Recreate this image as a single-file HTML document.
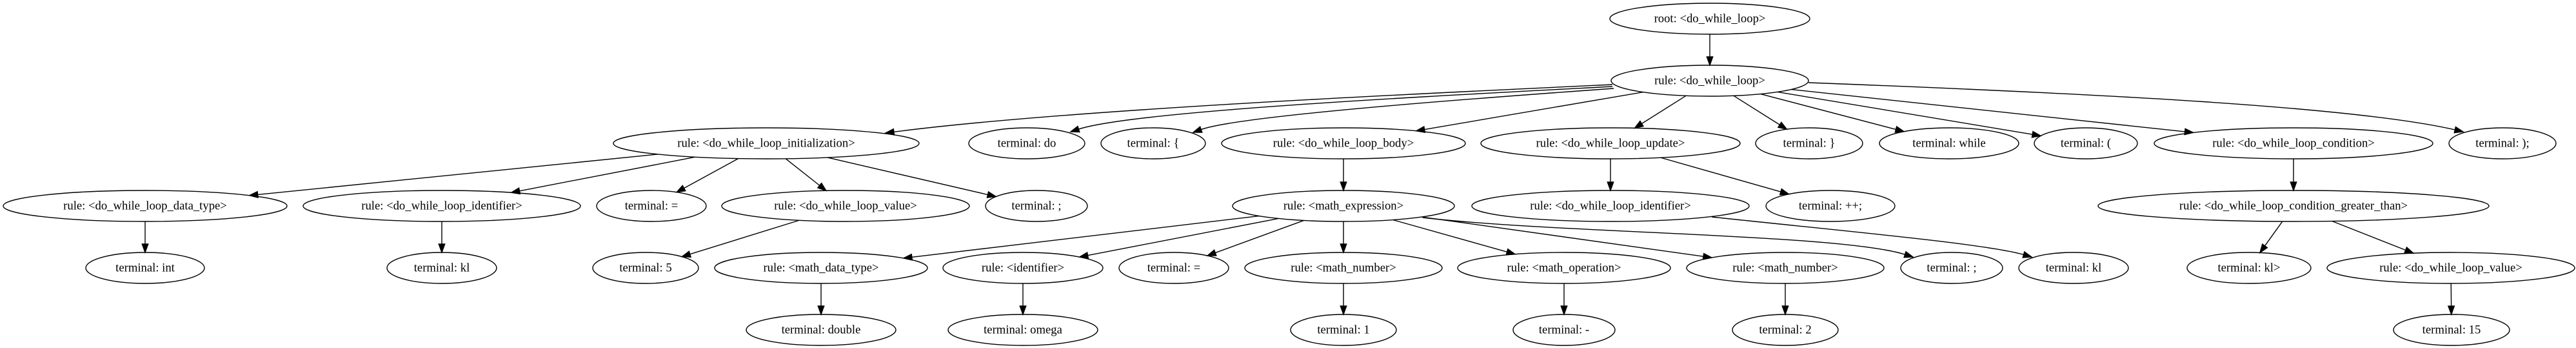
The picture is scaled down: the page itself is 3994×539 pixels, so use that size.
<!DOCTYPE html>
<html><head><meta charset="utf-8"><style>
html,body{margin:0;padding:0;background:#fff;}
svg{display:block;}
text{font-family:"Liberation Serif",serif;font-size:18.67px;fill:#000;text-anchor:middle;dominant-baseline:central;}
ellipse{fill:none;stroke:#000;stroke-width:1.4;}
</style></head><body>
<svg id="g" width="3994" height="539" viewBox="0 0 3994 539" xmlns="http://www.w3.org/2000/svg">
<g id="edges" stroke="#000" stroke-width="1.4" fill="none"></g>
<g id="arrows" fill="#000" stroke="#000" stroke-width="1.4"></g>
<g id="nodes">
<ellipse cx="2651" cy="29" rx="155" ry="24"/><text x="2651" y="29">root: &lt;do_while_loop&gt;</text>
<ellipse cx="2651" cy="125" rx="153" ry="24"/><text x="2651" y="125">rule: &lt;do_while_loop&gt;</text>
<ellipse cx="1188" cy="222" rx="237" ry="24"/><text x="1188" y="222">rule: &lt;do_while_loop_initialization&gt;</text>
<ellipse cx="1592" cy="222" rx="90" ry="24"/><text x="1592" y="222">terminal: do</text>
<ellipse cx="1788" cy="222" rx="81" ry="24"/><text x="1788" y="222">terminal: {</text>
<ellipse cx="2083" cy="222" rx="189" ry="24"/><text x="2083" y="222">rule: &lt;do_while_loop_body&gt;</text>
<ellipse cx="2497" cy="222" rx="201" ry="24"/><text x="2497" y="222">rule: &lt;do_while_loop_update&gt;</text>
<ellipse cx="2805" cy="222" rx="83" ry="24"/><text x="2805" y="222">terminal: }</text>
<ellipse cx="3022" cy="222" rx="108" ry="24"/><text x="3022" y="222">terminal: while</text>
<ellipse cx="3234" cy="222" rx="80" ry="24"/><text x="3234" y="222">terminal: (</text>
<ellipse cx="3556" cy="222" rx="216" ry="24"/><text x="3556" y="222">rule: &lt;do_while_loop_condition&gt;</text>
<ellipse cx="3880" cy="222" rx="83" ry="24"/><text x="3880" y="222">terminal: );</text>

<ellipse cx="225" cy="319" rx="220" ry="24"/><text x="225" y="319">rule: &lt;do_while_loop_data_type&gt;</text>
<ellipse cx="685" cy="319" rx="215" ry="24"/><text x="685" y="319">rule: &lt;do_while_loop_identifier&gt;</text>
<ellipse cx="1010" cy="319" rx="85" ry="24"/><text x="1010" y="319">terminal: =</text>
<ellipse cx="1311" cy="319" rx="192" ry="24"/><text x="1311" y="319">rule: &lt;do_while_loop_value&gt;</text>
<ellipse cx="1607" cy="319" rx="79" ry="24"/><text x="1607" y="319">terminal: ;</text>
<ellipse cx="2083" cy="319" rx="172" ry="24"/><text x="2083" y="319">rule: &lt;math_expression&gt;</text>
<ellipse cx="2497" cy="319" rx="215" ry="24"/><text x="2497" y="319">rule: &lt;do_while_loop_identifier&gt;</text>
<ellipse cx="2838" cy="319" rx="100" ry="24"/><text x="2838" y="319">terminal: ++;</text>
<ellipse cx="3556" cy="319" rx="303" ry="24"/><text x="3556" y="319">rule: &lt;do_while_loop_condition_greater_than&gt;</text>

<ellipse cx="225" cy="415" rx="92" ry="24"/><text x="225" y="415">terminal: int</text>
<ellipse cx="685" cy="415" rx="85" ry="24"/><text x="685" y="415">terminal: kl</text>
<ellipse cx="1001" cy="415" rx="82" ry="24"/><text x="1001" y="415">terminal: 5</text>
<ellipse cx="1273" cy="415" rx="165" ry="24"/><text x="1273" y="415">rule: &lt;math_data_type&gt;</text>
<ellipse cx="1586" cy="415" rx="124" ry="24"/><text x="1586" y="415">rule: &lt;identifier&gt;</text>
<ellipse cx="1820" cy="415" rx="85" ry="24"/><text x="1820" y="415">terminal: =</text>
<ellipse cx="2083" cy="415" rx="153" ry="24"/><text x="2083" y="415">rule: &lt;math_number&gt;</text>
<ellipse cx="2425" cy="415" rx="165" ry="24"/><text x="2425" y="415">rule: &lt;math_operation&gt;</text>
<ellipse cx="2768" cy="415" rx="153" ry="24"/><text x="2768" y="415">rule: &lt;math_number&gt;</text>
<ellipse cx="3026" cy="415" rx="79" ry="24"/><text x="3026" y="415">terminal: ;</text>
<ellipse cx="3215" cy="415" rx="85" ry="24"/><text x="3215" y="415">terminal: kl</text>
<ellipse cx="3487" cy="415" rx="96" ry="24"/><text x="3487" y="415">terminal: kl&gt;</text>
<ellipse cx="3800" cy="415" rx="192" ry="24"/><text x="3800" y="415">rule: &lt;do_while_loop_value&gt;</text>

<ellipse cx="1273" cy="511" rx="116" ry="24"/><text x="1273" y="511">terminal: double</text>
<ellipse cx="1586" cy="511" rx="116" ry="24"/><text x="1586" y="511">terminal: omega</text>
<ellipse cx="2083" cy="511" rx="82" ry="24"/><text x="2083" y="511">terminal: 1</text>
<ellipse cx="2425" cy="511" rx="79" ry="24"/><text x="2425" y="511">terminal: -</text>
<ellipse cx="2768" cy="511" rx="82" ry="24"/><text x="2768" y="511">terminal: 2</text>
<ellipse cx="3801" cy="511" rx="90" ry="24"/><text x="3801" y="511">terminal: 15</text>
</g>
</svg>
<script>
var N={
root:[2651,29,155],R1:[2651,125,153],
init:[1188,222,237],dO:[1592,222,90],lb:[1788,222,81],body:[2083,222,189],upd:[2497,222,201],rb:[2805,222,83],wh:[3022,222,108],lp:[3234,222,80],cond:[3556,222,216],rp:[3880,222,83],
dt:[225,319,220],id1:[685,319,215],eq1:[1010,319,85],v1:[1311,319,192],s1:[1607,319,79],me:[2083,319,172],id2:[2497,319,215],pp:[2838,319,100],gt:[3556,319,303],
int:[225,415,92],kl1:[685,415,85],five:[1001,415,82],mdt:[1273,415,165],mid:[1586,415,124],eq2:[1820,415,85],mn1:[2083,415,153],mop:[2425,415,165],mn2:[2768,415,153],s2:[3026,415,79],kl2:[3215,415,85],klg:[3487,415,96],v2:[3800,415,192],
dbl:[1273,511,116],om:[1586,511,116],one:[2083,511,82],mi:[2425,511,79],two:[2768,511,82],f15:[3801,511,90]};
var E=[["root","R1"],["R1","body"],["R1","upd"],["R1","rb"],["R1","wh"],["R1","lp"],["R1","cond"],
["init","dt"],["init","id1"],["init","eq1"],["init","v1"],["init","s1"],["body","me"],["upd","id2"],["upd","pp"],["cond","gt"],
["dt","int"],["id1","kl1"],["v1","five"],["me","mdt"],["me","mid"],["me","eq2"],["me","mn1"],["me","mop"],["me","mn2"],["gt","klg"],["gt","v2"],
["mdt","dbl"],["mid","om"],["mn1","one"],["mop","mi"],["mn2","two"],["v2","f15"]];
// curved edges: start, c1, c2, end(tip)
var C=[
[[2500,131],[2200,145],[1650,170],[1373,206]],
[[2500,134],[2200,150],[1760,172],[1660,204]],
[[2502,137],[2250,155],[1920,180],[1850,205]],
[[2804,128],[3250,145],[3650,165],[3819,204]],
[[2206,337],[2420,362],[2850,362],[2966,398]],
[[2654,336],[2880,360],[3080,378],[3150,398]]
];
var ge=document.getElementById("edges"),ga=document.getElementById("arrows"),ns="http://www.w3.org/2000/svg",RY=24,al=13,aw=4.7;
function arrow(x2,y2,ux,uy){var bx=x2-ux*al,by=y2-uy*al;
var pg=document.createElementNS(ns,"polygon");
pg.setAttribute("points",x2+","+y2+" "+(bx-uy*aw)+","+(by+ux*aw)+" "+(bx+uy*aw)+","+(by-ux*aw));ga.appendChild(pg);return [bx,by];}
E.forEach(function(e){var p=N[e[0]],c=N[e[1]];var dx=c[0]-p[0],dy=c[1]-p[1];
var t1=1/Math.sqrt(Math.pow(dx/p[2],2)+Math.pow(dy/RY,2));
var t2=1-1/Math.sqrt(Math.pow(dx/c[2],2)+Math.pow(dy/RY,2));
var x1=p[0]+dx*t1,y1=p[1]+dy*t1,x2=p[0]+dx*t2,y2=p[1]+dy*t2;
var L=Math.hypot(x2-x1,y2-y1),ux=(x2-x1)/L,uy=(y2-y1)/L;
var b=arrow(x2,y2,ux,uy);
var l=document.createElementNS(ns,"line");l.setAttribute("x1",x1);l.setAttribute("y1",y1);l.setAttribute("x2",b[0]);l.setAttribute("y2",b[1]);ge.appendChild(l);});
C.forEach(function(c){var s=c[0],a=c[1],d=c[2],t=c[3];
var L=Math.hypot(t[0]-d[0],t[1]-d[1]),ux=(t[0]-d[0])/L,uy=(t[1]-d[1])/L;
var b=arrow(t[0],t[1],ux,uy);
var p=document.createElementNS(ns,"path");
p.setAttribute("d","M"+s[0]+","+s[1]+" C"+a[0]+","+a[1]+" "+d[0]+","+d[1]+" "+b[0]+","+b[1]);ge.appendChild(p);});
</script>
</body></html>
